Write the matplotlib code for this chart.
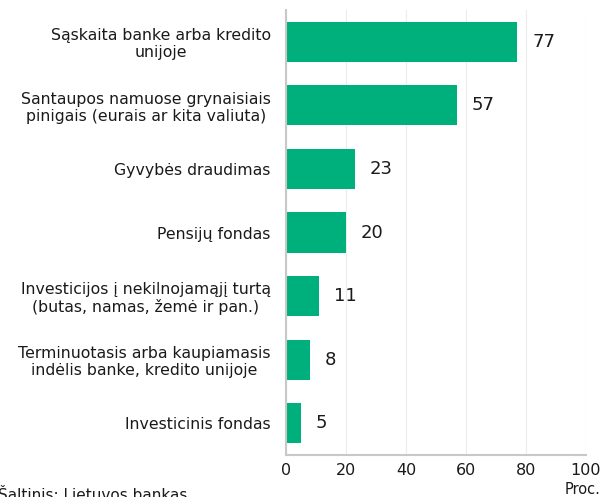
import matplotlib
matplotlib.use("Agg")
import matplotlib.pyplot as plt

categories = [
    "Sąskaita banke arba kredito\nunijoje",
    "Santaupos namuose grynaisiais\npinigais (eurais ar kita valiuta)",
    "Gyvybės draudimas",
    "Pensijų fondas",
    "Investicijos į nekilnojamąjį turtą\n(butas, namas, žemė ir pan.)",
    "Terminuotasis arba kaupiamasis\nindėlis banke, kredito unijoje",
    "Investicinis fondas",
]
values = [77, 57, 23, 20, 11, 8, 5]
xticks = [0, 20, 40, 60, 80, 100]

plt.rcParams['font.family'] = ['DejaVu Sans']
fig = plt.figure(figsize=(6.02, 4.97), dpi=100)
ax = fig.add_axes([286/602, 1-455/497, (586-286)/602, (455-10)/497])

ypos = list(range(len(categories)))
ax.barh(ypos, values, height=0.63, color="#00b07c")
ax.set_ylim(len(categories)-0.5, -0.5)
ax.set_xlim(0, 100)
ax.set_yticks(ypos)
ax.set_yticklabels(categories, fontsize=11.3, ha='right', multialignment='center',
                   color="#1a1a1a", linespacing=1.15)
ax.tick_params(axis='y', length=0, pad=11)
ax.set_xticks(xticks)
ax.set_xticklabels([str(t) for t in xticks], fontsize=11.5, color="#1a1a1a")
ax.tick_params(axis='x', length=0, pad=6)
ax.grid(axis='x', color="#ececec", linewidth=0.8)
ax.set_axisbelow(True)
for s in ['top', 'right']:
    ax.spines[s].set_visible(False)
ax.spines['left'].set_color("#c8c8c8")
ax.spines['left'].set_linewidth(1.5)
ax.spines['bottom'].set_color("#c8c8c8")
ax.spines['bottom'].set_linewidth(1.5)

for y, v in zip(ypos, values):
    ax.text(v + 5, y, str(v), va='center', ha='left', fontsize=13, color="#1a1a1a")

fig.text(600/602, 1-490/497, "Proc.", ha='right', va='center', fontsize=10.5, color="#1a1a1a")
fig.text(-2/602, 1-495/497, "Šaltinis: Lietuvos bankas", ha='left', va='center', fontsize=11, color="#1a1a1a")

fig.savefig("out.png", dpi=100)
